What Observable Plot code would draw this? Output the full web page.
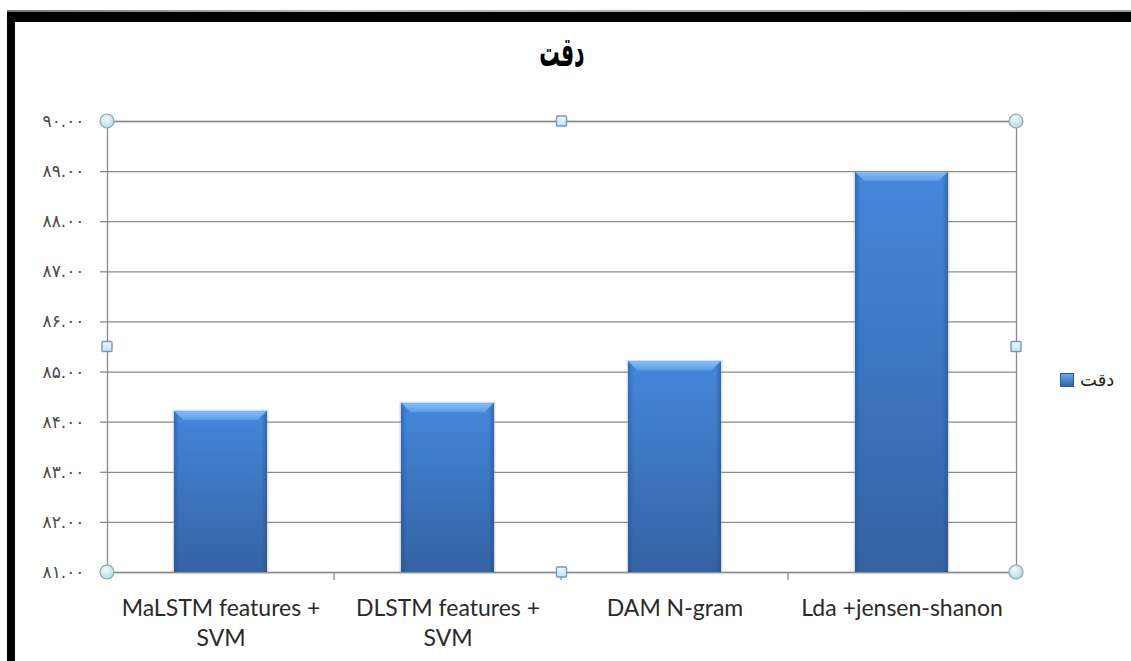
<!DOCTYPE html>
<html><head><meta charset="utf-8">
<script src="https://cdn.jsdelivr.net/npm/d3@7"></script>
<script src="https://cdn.jsdelivr.net/npm/@observablehq/plot@0.6"></script>
<style>
html,body{margin:0;padding:0;overflow:hidden;background:#fff;}
#page{position:relative;width:1131px;height:661px;overflow:hidden;background:#fff;}
#page svg.chart{position:absolute;left:0;top:0;background:transparent;}
#page svg.chart g[aria-label="y-axis tick label"] text{letter-spacing:2px;}
.frame{position:absolute;background:#000;z-index:5;}
#title{position:absolute;left:0;top:31px;width:1124px;text-align:center;z-index:6;}
#title span{display:inline-block;font:bold 34px "DejaVu Sans";direction:rtl;color:#000;transform:scale(0.6,1.22);}
#legend{position:absolute;left:1060px;top:369px;z-index:6;display:flex;align-items:center;gap:6px;font:18px "DejaVu Sans";color:#222;}
#legend .sw{width:14px;height:14px;background:linear-gradient(#6aa9ee,#2f63b0);border:1px solid #2a5a9c;box-sizing:border-box;}
</style></head>
<body><div id="page">
<div id="title"><span></span></div>
<div id="legend"><span class="sw"></span><span class="lt" dir="rtl"></span></div>
<div class="frame" style="left:7px;top:10px;width:1124px;height:2px;background:linear-gradient(90deg,#777,#bbb 30%,#999);"></div>
<div class="frame" style="left:7px;top:12px;width:1124px;height:10px;"></div>
<div class="frame" style="left:7px;top:12px;width:8px;height:649px;"></div>
</div>
<script>
const chartTitle = "دقت";
const seriesName = "دقت";
const categories = ["MaLSTM features +\nSVM", "DLSTM features +\nSVM", "DAM N-gram", "Lda +jensen-shanon"];
const accuracy = [84.21, 84.37, 85.2, 88.98];
const yTicks = [81, 82, 83, 84, 85, 86, 87, 88, 89, 90];

const faDigits = "۰۱۲۳۴۵۶۷۸۹";
const fa = d => d.toFixed(2).replace(/[0-9]/g, c => faDigits[+c]);
const data = categories.map((c, i) => ({cat: c, value: accuracy[i]}));
const yMin = yTicks[0], yMax = yTicks[yTicks.length - 1];

const NS = "http://www.w3.org/2000/svg";
function el(tag, attrs) {
  const e = document.createElementNS(NS, tag);
  for (const k in attrs) e.setAttribute(k, attrs[k]);
  return e;
}

function defsMark() {
  const defs = el("defs", {});
  const body = el("linearGradient", {id: "barBody", x1: 0, y1: 0, x2: 0, y2: 1});
  body.append(el("stop", {offset: "0%", "stop-color": "#4487dc"}));
  body.append(el("stop", {offset: "100%", "stop-color": "#3463a3"}));
  const side = el("linearGradient", {id: "barSide", x1: 0, y1: 0, x2: 1, y2: 0});
  side.append(el("stop", {offset: "0%", "stop-color": "#1f4a86", "stop-opacity": 0.45}));
  side.append(el("stop", {offset: "6%", "stop-color": "#1f4a86", "stop-opacity": 0}));
  side.append(el("stop", {offset: "94%", "stop-color": "#1f4a86", "stop-opacity": 0}));
  side.append(el("stop", {offset: "100%", "stop-color": "#1f4a86", "stop-opacity": 0.5}));
  const bevel = el("linearGradient", {id: "barBevel", x1: 0, y1: 0, x2: 0, y2: 1});
  bevel.append(el("stop", {offset: "0%", "stop-color": "#86c0f8"}));
  bevel.append(el("stop", {offset: "100%", "stop-color": "#5a9be6"}));
  const hc = el("radialGradient", {id: "handleC", cx: "40%", cy: "35%", r: "65%"});
  hc.append(el("stop", {offset: "0%", "stop-color": "#f4fbfd"}));
  hc.append(el("stop", {offset: "100%", "stop-color": "#b3dbe6"}));
  const hs = el("linearGradient", {id: "handleS", x1: 0, y1: 0, x2: 0, y2: 1});
  hs.append(el("stop", {offset: "0%", "stop-color": "#eef8fc"}));
  hs.append(el("stop", {offset: "100%", "stop-color": "#c4e6f2"}));
  defs.append(body, side, bevel, hc, hs);
  return defs;
}

function bevelMark(index, scales) {
  const g = el("g", {});
  const x = scales.x, y = scales.y;
  const bw = typeof x.bandwidth === "function" ? x.bandwidth() : x.bandwidth;
  const b = 9;
  for (const d of data) {
    const x0 = x(d.cat), x1 = x0 + bw, yt = y(d.value);
    g.append(el("polygon", {
      points: `${x0},${yt} ${x1},${yt} ${x1 - b},${yt + b} ${x0 + b},${yt + b}`,
      fill: "url(#barBevel)"
    }));
    g.append(el("line", {x1: x0 + 0.5, y1: yt, x2: x0 + b, y2: yt + b, stroke: "#3f7bc9", "stroke-width": 1, "stroke-opacity": 0.6}));
    g.append(el("line", {x1: x1 - 0.5, y1: yt, x2: x1 - b, y2: yt + b, stroke: "#3f7bc9", "stroke-width": 1, "stroke-opacity": 0.6}));
  }
  return g;
}

function xTickMark(index, scales, values, dims) {
  const g = el("g", {stroke: "#8a8a8a", "stroke-width": 1.3});
  const x = scales.x;
  const bw = typeof x.bandwidth === "function" ? x.bandwidth() : x.bandwidth;
  const yb = dims.height - dims.marginBottom;
  for (let i = 0; i < categories.length - 1; i++) {
    const bx = (x(categories[i]) + x(categories[i + 1]) + bw) / 2;
    g.append(el("line", {x1: bx, x2: bx, y1: yb, y2: yb + 8}));
  }
  return g;
}

function handleMark(index, scales, values, dims) {
  const g = el("g", {});
  const l = dims.marginLeft, r = dims.width - dims.marginRight;
  const t = dims.marginTop, bt = dims.height - dims.marginBottom;
  const mx = (l + r) / 2, my = (t + bt) / 2;
  for (const [cx, cy] of [[l, t], [r, t], [l, bt], [r, bt]]) {
    g.append(el("circle", {cx, cy, r: 7, fill: "url(#handleC)", stroke: "#8aa4b4", "stroke-width": 1.2}));
  }
  for (const [cx, cy] of [[mx, t], [mx, bt], [l, my], [r, my]]) {
    g.append(el("rect", {x: cx - 5, y: cy - 5, width: 10, height: 10, rx: 1, fill: "url(#handleS)", stroke: "#6f9acb", "stroke-width": 1.4}));
  }
  return g;
}

const chart = Plot.plot({
  width: 1131,
  height: 661,
  marginTop: 121,
  marginBottom: 89,
  marginLeft: 107,
  marginRight: 115,
  className: "chart",
  style: {fontFamily: "DejaVu Sans", background: "transparent", overflow: "visible"},
  x: {domain: categories, paddingInner: 0.59, paddingOuter: 0.295, axis: null},
  y: {domain: [yMin, yMax], axis: null},
  marks: [
    defsMark,
    Plot.ruleY(yTicks, {stroke: "#8a8a8a", strokeWidth: 1.3}),
    Plot.axisY(yTicks, {label: null, tickSize: 7, tickPadding: 16, tickFormat: fa, stroke: "#8a8a8a", strokeWidth: 1.3, fill: "#4a4a4a", fontSize: 17, strokeOpacity: 1}),
    Plot.frame({stroke: "#8a8a8a", strokeWidth: 1.3}),
    xTickMark,
    Plot.barY(data, {x: "cat", y1: yMin, y2: "value", fill: "none", stroke: "#9a9a9a", strokeWidth: 3, strokeOpacity: 0.35}),
    Plot.barY(data, {x: "cat", y1: yMin, y2: "value", fill: "url(#barBody)"}),
    Plot.barY(data, {x: "cat", y1: yMin, y2: "value", fill: "url(#barSide)"}),
    bevelMark,
    Plot.text(data, {x: "cat", text: "cat", frameAnchor: "bottom", lineAnchor: "top", lineHeight: 1.32, dy: 22, fontSize: 23, fontFamily: "Lato", fill: "#2a2a2a"}),
    handleMark
  ]
});
document.getElementById("page").prepend(chart);
document.querySelector("#title span").textContent = chartTitle;
document.querySelector("#legend .lt").textContent = seriesName;
</script>
</body></html>
